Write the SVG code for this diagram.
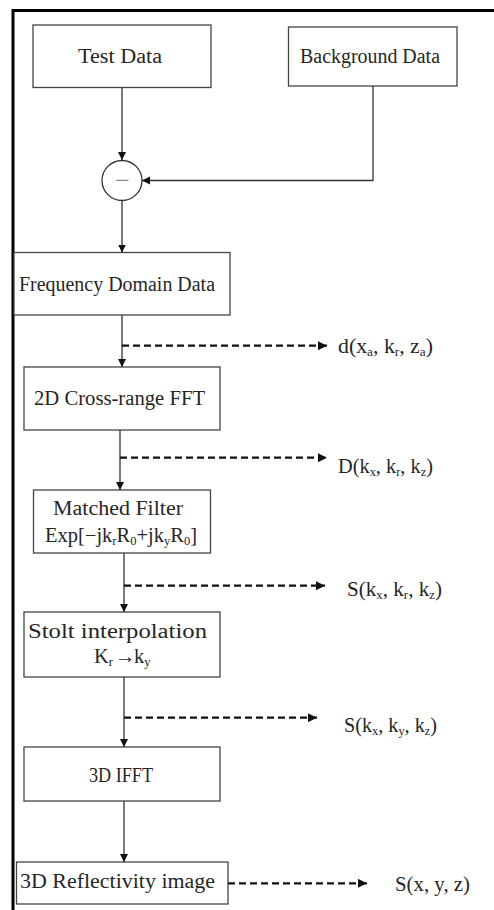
<svg xmlns="http://www.w3.org/2000/svg" width="494" height="910" viewBox="0 0 494 910">
<defs>
<marker id="ah" markerUnits="userSpaceOnUse" markerWidth="10" markerHeight="10" refX="8" refY="4" orient="auto">
<path d="M0,0 L8,4 L0,8 Z" fill="#111"/>
</marker>
<marker id="ahd" markerUnits="userSpaceOnUse" markerWidth="12" markerHeight="12" refX="9" refY="4.5" orient="auto">
<path d="M0,0 L9,4.5 L0,9 Z" fill="#111"/>
</marker>
</defs>
<style>
.box{fill:#fff;stroke:#444;stroke-width:1.3}
.t{font-family:"Liberation Serif","Noto Sans CJK SC",serif;font-size:20.5px;fill:#262626}
.m{text-anchor:middle}
.c{fill:none;stroke:#333;stroke-width:1.3;marker-end:url(#ah)}
.d{fill:none;stroke:#111;stroke-width:2.2;stroke-dasharray:7 4;marker-end:url(#ahd)}
.s{font-size:12.5px}
.frame{fill:none;stroke:#000;stroke-width:3}
</style>
<rect width="494" height="910" fill="#fff"/>
<path class="frame" d="M13 910 V10.5 H494"/>

<g id="test-data">
<rect class="box" x="33" y="25" width="178" height="62.5"/>
<text class="t" x="78" y="63" textLength="84" lengthAdjust="spacingAndGlyphs">Test Data</text>
</g>
<g id="background-data">
<rect class="box" x="288.5" y="27" width="168.5" height="59"/>
<text class="t" x="300" y="63" textLength="140" lengthAdjust="spacingAndGlyphs">Background Data</text>
</g>
<g id="subtract">
<circle cx="122" cy="180.5" r="20" fill="#fff" stroke="#333" stroke-width="1.3"/>
<text class="t m" x="122.5" y="189" style="fill:#888;font-size:26px">−</text>
</g>
<g id="frequency-domain">
<rect class="box" x="14" y="252.5" width="216" height="62.5"/>
<text class="t" x="19" y="291" textLength="196" lengthAdjust="spacingAndGlyphs">Frequency Domain Data</text>
</g>
<g id="fft2d">
<rect class="box" x="24" y="367" width="196" height="63"/>
<text class="t" x="34" y="405" textLength="171" lengthAdjust="spacingAndGlyphs">2D Cross-range FFT</text>
</g>
<g id="matched-filter">
<rect class="box" x="33.5" y="490" width="177" height="63"/>
<text class="t" x="53" y="515" textLength="130" lengthAdjust="spacingAndGlyphs">Matched Filter</text>
<text class="t" x="45" y="541.5" textLength="152" lengthAdjust="spacingAndGlyphs">Exp[−jk<tspan class="s" dy="3">r</tspan><tspan dy="-3">R</tspan><tspan class="s" dy="3">0</tspan><tspan dy="-3">+jk</tspan><tspan class="s" dy="3">y</tspan><tspan dy="-3">R</tspan><tspan class="s" dy="3">0</tspan><tspan dy="-3">]</tspan></text>
</g>
<g id="stolt">
<rect class="box" x="24" y="612" width="196" height="65"/>
<text class="t" x="28" y="638" textLength="179" lengthAdjust="spacingAndGlyphs">Stolt interpolation</text>
<text class="t" x="94" y="663">K<tspan class="s" dy="3">r</tspan><tspan x="115" dy="-3">→</tspan><tspan x="134">k</tspan><tspan class="s" dy="3">y</tspan></text>
</g>
<g id="ifft3d">
<rect class="box" x="24" y="747" width="196" height="54"/>
<text class="t" x="89" y="781.5" textLength="64" lengthAdjust="spacingAndGlyphs">3D IFFT</text>
</g>
<g id="reflectivity">
<rect class="box" x="16.5" y="862" width="211.5" height="42"/>
<text class="t" x="20" y="888" textLength="195" lengthAdjust="spacingAndGlyphs">3D Reflectivity image</text>
</g>

<g id="labels">
<text class="t" x="338" y="352.5" textLength="95" lengthAdjust="spacingAndGlyphs">d(x<tspan class="s" dy="3">a</tspan><tspan dy="-3">, k</tspan><tspan class="s" dy="3">r</tspan><tspan dy="-3">, z</tspan><tspan class="s" dy="3">a</tspan><tspan dy="-3">)</tspan></text>
<text class="t" x="338" y="472.5" textLength="95" lengthAdjust="spacingAndGlyphs">D(k<tspan class="s" dy="3">x</tspan><tspan dy="-3">, k</tspan><tspan class="s" dy="3">r</tspan><tspan dy="-3">, k</tspan><tspan class="s" dy="3">z</tspan><tspan dy="-3">)</tspan></text>
<text class="t" x="347" y="596" textLength="95" lengthAdjust="spacingAndGlyphs">S(k<tspan class="s" dy="3">x</tspan><tspan dy="-3">, k</tspan><tspan class="s" dy="3">r</tspan><tspan dy="-3">, k</tspan><tspan class="s" dy="3">z</tspan><tspan dy="-3">)</tspan></text>
<text class="t" x="344" y="731.5" textLength="93" lengthAdjust="spacingAndGlyphs">S(k<tspan class="s" dy="3">x</tspan><tspan dy="-3">, k</tspan><tspan class="s" dy="3">y</tspan><tspan dy="-3">, k</tspan><tspan class="s" dy="3">z</tspan><tspan dy="-3">)</tspan></text>
<text class="t" x="395" y="890.5" textLength="75" lengthAdjust="spacingAndGlyphs">S(x, y, z)</text>
</g>

<g id="connectors">
<path class="c" d="M122 87.5 V160"/>
<path class="c" d="M373 86 V180.5 H142"/>
<path class="c" d="M122 200.5 V252.5"/>
<path class="c" d="M122 315 V367"/>
<path class="d" d="M122 345.7 H327"/>
<path class="c" d="M120 430 V490"/>
<path class="d" d="M120 457.7 H327"/>
<path class="c" d="M124 553 V612"/>
<path class="d" d="M124 585.7 H325"/>
<path class="c" d="M124 677 V747"/>
<path class="d" d="M124 717.7 H317"/>
<path class="c" d="M124 801 V862"/>
<path class="d" d="M228 883.3 H367"/>
</g>
</svg>
